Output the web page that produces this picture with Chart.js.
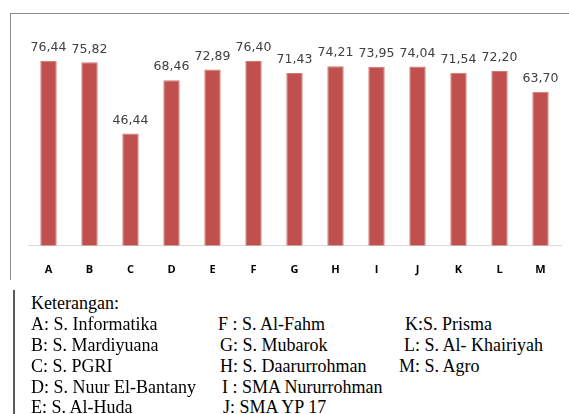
<!DOCTYPE html>
<html lang="id">
<head>
  <meta charset="UTF-8" />
  <title>Nilai per Sekolah</title>
  <script src="https://cdn.jsdelivr.net/npm/chart.js"></script>
  <style>
    body { margin: 0; background: #fff; }
    #page { position: relative; width: 569px; height: 414px; overflow: hidden; background: #fff; }
    #frame {
      position: absolute; left: 10px; top: 13px; width: 600px; height: 266px;
      border-top: 1px solid #8c8c8c; border-left: 1px solid #8c8c8c;
    }
    #wrap { position: absolute; left: 11px; top: 14px; width: 558px; height: 279px; }
    #note {
      position: absolute; left: 13px; top: 290px; width: 2px; height: 130px; background: #5a5a5a;
    }
    .ln {
      position: absolute; white-space: pre; font-family: "Liberation Serif", "Times New Roman", serif;
      font-size: 18px; line-height: 18px; color: #000;
    }
  </style>
</head>
<body>
  <div id="page">
    <div id="frame"></div>
    <div id="wrap"><canvas id="chart"></canvas></div>
    <div id="note"></div>
    <div id="legend"></div>
  </div>
  <script>
    const categories = ["A", "B", "C", "D", "E", "F", "G", "H", "I", "J", "K", "L", "M"];
    const values = [76.44, 75.82, 46.44, 68.46, 72.89, 76.40, 71.43, 74.21, 73.95, 74.04, 71.54, 72.20, 63.70];
    const noteTitle = "Keterangan:";
    const noteCol1 = ["A: S. Informatika", "B: S. Mardiyuana", "C: S. PGRI", "D: S. Nuur El-Bantany", "E: S. Al-Huda"];
    const noteCol2 = ["F : S. Al-Fahm", "G: S. Mubarok", "H: S. Daarurrohman", "I : SMA Nururrohman", "J: SMA YP 17"];
    const noteCol3 = ["K:S. Prisma", "L: S. Al- Khairiyah", "M: S. Agro"];

    // legend text below the chart
    const legend = document.getElementById("legend");
    const rowBase = [309, 330.5, 351, 372, 393, 413.5];
    const col2X = [218, 220, 220, 222, 223];
    const col3X = [405, 404, 399];
    function addLine(text, x, baseline) {
      const d = document.createElement("div");
      d.className = "ln";
      d.textContent = text;
      d.style.left = x + "px";
      d.style.top = (baseline - 15.1) + "px";
      legend.appendChild(d);
    }
    addLine(noteTitle, 31, rowBase[0]);
    noteCol1.forEach((t, i) => addLine(t, 31, rowBase[i + 1]));
    noteCol2.forEach((t, i) => addLine(t, col2X[i], rowBase[i + 1]));
    noteCol3.forEach((t, i) => addLine(t, col3X[i], rowBase[i + 1]));

    const valueLabels = {
      id: "valueLabels",
      afterDatasetsDraw(chart) {
        const ctx = chart.ctx;
        const meta = chart.getDatasetMeta(0);
        ctx.save();
        ctx.font = "12.5px 'DejaVu Sans', sans-serif";
        ctx.fillStyle = "#404040";
        ctx.textAlign = "center";
        ctx.textBaseline = "middle";
        meta.data.forEach((bar, i) => {
          ctx.fillText(values[i].toFixed(2).replace(".", ","), bar.x, bar.y - 13);
        });
        ctx.restore();
      }
    };

    new Chart(document.getElementById("chart"), {
      type: "bar",
      data: {
        labels: categories,
        datasets: [{
          data: values,
          backgroundColor: "#c0504d",
          borderColor: "#d07a78",
          borderWidth: { left: 1, right: 1, top: 1, bottom: 0 },
          barPercentage: 0.4,
          categoryPercentage: 1
        }]
      },
      options: {
        responsive: true,
        maintainAspectRatio: false,
        animation: false,
        layout: { padding: { left: 17, right: 8, top: 14, bottom: 0 } },
        plugins: { legend: { display: false }, tooltip: { enabled: false } },
        scales: {
          x: {
            grid: { display: false, drawTicks: false },
            border: { color: "#d9d9d9", width: 1 },
            ticks: { color: "#000", padding: 17, font: { family: "'Open Sans', sans-serif", size: 11, weight: "bold" } }
          },
          y: { display: false, min: 0, max: 90 }
        }
      },
      plugins: [valueLabels]
    });
  </script>
</body>
</html>
